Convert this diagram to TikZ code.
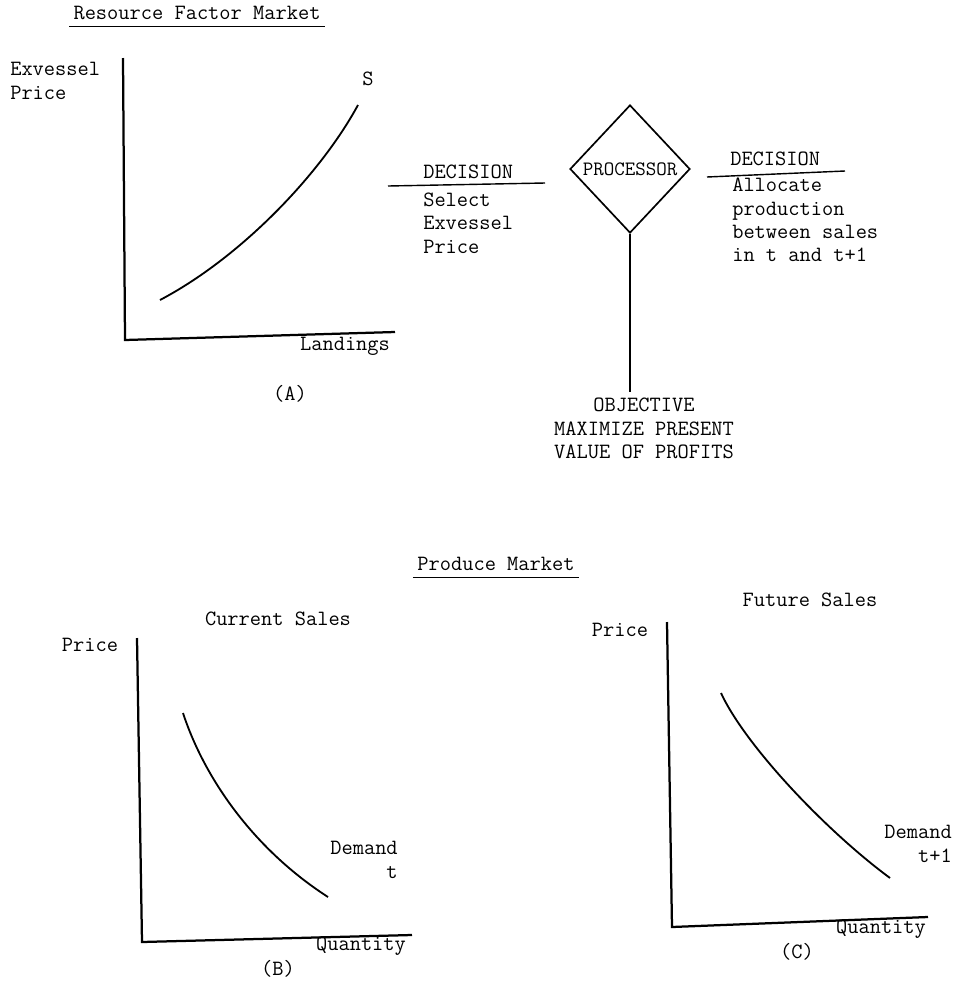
\documentclass[tikz,border=0pt]{standalone}
\usepackage{tikz}
\usetikzlibrary{calc,positioning,shapes.geometric}

\begin{document}
\begin{tikzpicture}[x=0.025cm,y=-0.025cm,
     every node/.style={font=\fontsize{15.5pt}{16.7pt}\selectfont\ttfamily,inner sep=0pt},
     lbl/.style={text height=1.6ex,text depth=.4ex},
     blk/.style={align=left},
     hd/.style={lbl,inner sep=3pt},
     axis/.style={line width=1.6pt},
     curve/.style={line width=1.3pt},
     rule/.style={line width=1pt},
     proc/.style={diamond,draw,line width=1.2pt,minimum width=3cm,minimum height=3.2cm,
       font=\fontsize{14.5pt}{16pt}\selectfont\ttfamily}]
     \useasboundingbox (0,0) rectangle (955,988);

     % resource factor market (A)
     \node[hd] (rfm) at (197,16) {Resource Factor Market};
     \draw[rule] (rfm.south west) -- (rfm.south east);
     \node[blk,anchor=west] (pA) at (10,81) {Exvessel\\Price};
     \coordinate (yA) at (123,58);
     \coordinate (oA) at (125,340);
     \coordinate (xA) at (395,332);
     \draw[axis] (yA) -- (oA) -- (xA);
     \draw[curve] (160,300) .. controls (240,258) and (320,175) .. (358,105);
     \node[lbl] (sA) at (368,82) {S};
     \node[lbl] (qA) at (345,347) {Landings};
     \node[lbl] (nA) at (290,397) {(A)};

     % processor
     \node[proc] (pr) at (630,169) {PROCESSOR};
     \node[lbl,anchor=west] (d1) at (423,175) {DECISION};
     \coordinate (d1a) at (388,186);
     \coordinate (d1b) at (545,183);
     \draw[rule] (d1a) -- (d1b);
     \node[blk,anchor=west] (s1) at (423,223) {Select\\Exvessel\\Price};
     \node[lbl,anchor=west] (d2) at (730,162) {DECISION};
     \coordinate (d2a) at (707,177);
     \coordinate (d2b) at (845,171);
     \draw[rule] (d2a) -- (d2b);
     \node[blk,anchor=west] (s2) at (732,220) {Allocate\\production\\between sales\\in t and t+1};
     \node[align=center,anchor=north] (obj) at (644,398) {OBJECTIVE\\MAXIMIZE PRESENT\\VALUE OF PROFITS};
     \draw[line width=.8pt,shorten >=4pt] (pr.south) -- (pr.south |- obj.north);

     % produce market (B) and (C)
     \node[hd] (pm) at (496,567) {Produce Market};
     \draw[rule] (pm.south west) -- (pm.south east);

     \node[lbl] (tB) at (278,622) {Current Sales};
     \node[lbl] (pB) at (90,648) {Price};
     \coordinate (yB) at (137,638);
     \coordinate (oB) at (142,942);
     \coordinate (xB) at (412,935);
     \draw[axis] (yB) -- (oB) -- (xB);
     \draw[curve] (183,713) .. controls (205,780) and (255,850) .. (328,897);
     \node[blk,align=right,anchor=east] (dB) at (398,860) {Demand\\t};
     \node[lbl] (qB) at (361,947) {Quantity};
     \node[lbl] (nB) at (278,972) {(B)};

     \node[lbl] (tC) at (810,603) {Future Sales};
     \node[lbl] (pC) at (620,633) {Price};
     \coordinate (yC) at (667,622);
     \coordinate (oC) at (672,927);
     \coordinate (xC) at (928,917);
     \draw[axis] (yC) -- (oC) -- (xC);
     \draw[curve] (721,693) .. controls (745,745) and (825,830) .. (890,878);
     \node[blk,align=right,anchor=east] (dC) at (952,844) {Demand\\t+1};
     \node[lbl] (qC) at (881,930) {Quantity};
     \node[lbl] (nC) at (797,955) {(C)};
\end{tikzpicture}
\end{document}
